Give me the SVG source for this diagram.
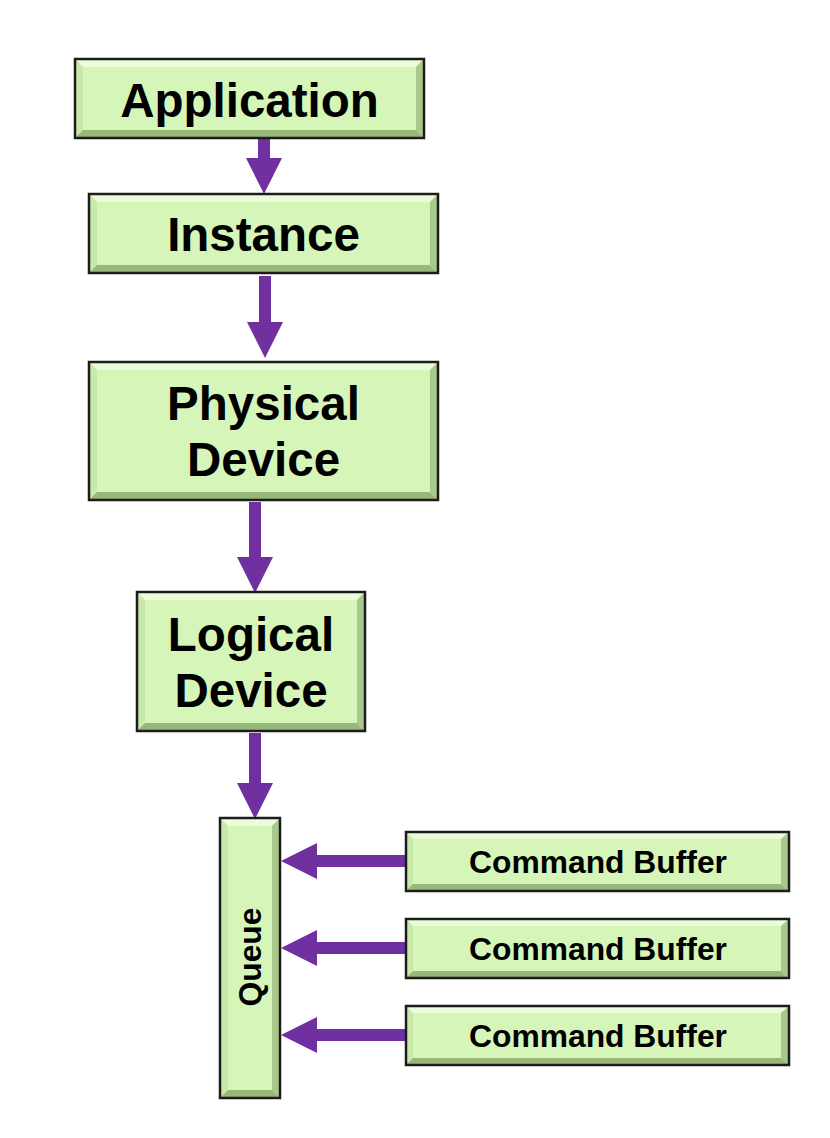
<svg xmlns="http://www.w3.org/2000/svg" width="830" height="1138" viewBox="0 0 830 1138">
<style>
.face{fill:#d6f5b8}
.bt{fill:#eafcda}
.bl{fill:#c9e9aa}
.bb{fill:#98b87a}
.br{fill:#a9c98c}
.edge{fill:none;stroke:#1c1c1c;stroke-width:2.5}
.lbl{font-family:"Liberation Sans",Arial,sans-serif;font-weight:bold;fill:#000;text-anchor:middle}
.big{font-size:47.5px}
.small{font-size:31.8px}
.arrow{fill:#7030a0}
</style>
<rect width="830" height="1138" fill="#fff"/>
<g id="connectors">
  <polygon class="arrow" points="258,128 270,128 270,158 282,158 264,194 246,158 258,158"/>
  <polygon class="arrow" points="259,276 271,276 271,322 283,322 265,358 247,322 259,322"/>
  <polygon class="arrow" points="249,502 261,502 261,557 273,557 255,593 237,557 249,557"/>
  <polygon class="arrow" points="249,733 261,733 261,783 273,783 255,819 237,783 249,783"/>
  <polygon class="arrow" points="407,855 317,855 317,843 281,861 317,879 317,867 407,867"/>
  <polygon class="arrow" points="407,942 317,942 317,930 281,948 317,966 317,954 407,954"/>
  <polygon class="arrow" points="407,1029 317,1029 317,1017 281,1035 317,1053 317,1041 407,1041"/>
</g>
<g id="application">
  <rect class="face" x="75" y="59" width="349" height="79"/>
  <polygon class="bt" points="75,59 424,59 416,67 83,67"/>
  <polygon class="bl" points="75,59 83,67 83,130 75,138"/>
  <polygon class="bb" points="75,138 83,130 416,130 424,138"/>
  <polygon class="br" points="424,59 424,138 416,130 416,67"/>
  <rect class="edge" x="75" y="59" width="349" height="79"/>
  <text class="lbl big" x="249.5" y="117">Application</text>
</g>
<g id="instance">
  <rect class="face" x="89" y="194" width="349" height="79"/>
  <polygon class="bt" points="89,194 438,194 430,202 97,202"/>
  <polygon class="bl" points="89,194 97,202 97,265 89,273"/>
  <polygon class="bb" points="89,273 97,265 430,265 438,273"/>
  <polygon class="br" points="438,194 438,273 430,265 430,202"/>
  <rect class="edge" x="89" y="194" width="349" height="79"/>
  <text class="lbl big" x="263.5" y="251">Instance</text>
</g>
<g id="physical-device">
  <rect class="face" x="89" y="362" width="349" height="138"/>
  <polygon class="bt" points="89,362 438,362 430,370 97,370"/>
  <polygon class="bl" points="89,362 97,370 97,492 89,500"/>
  <polygon class="bb" points="89,500 97,492 430,492 438,500"/>
  <polygon class="br" points="438,362 438,500 430,492 430,370"/>
  <rect class="edge" x="89" y="362" width="349" height="138"/>
  <text class="lbl big" x="263.5" y="420">Physical</text>
  <text class="lbl big" x="263.5" y="476">Device</text>
</g>
<g id="logical-device">
  <rect class="face" x="137" y="592" width="228" height="139"/>
  <polygon class="bt" points="137,592 365,592 357,600 145,600"/>
  <polygon class="bl" points="137,592 145,600 145,723 137,731"/>
  <polygon class="bb" points="137,731 145,723 357,723 365,731"/>
  <polygon class="br" points="365,592 365,731 357,723 357,600"/>
  <rect class="edge" x="137" y="592" width="228" height="139"/>
  <text class="lbl big" x="251" y="651">Logical</text>
  <text class="lbl big" x="251" y="707">Device</text>
</g>
<g id="queue">
  <rect class="face" x="220" y="818" width="60" height="280"/>
  <polygon class="bt" points="220,818 280,818 272,826 228,826"/>
  <polygon class="bl" points="220,818 228,826 228,1090 220,1098"/>
  <polygon class="bb" points="220,1098 228,1090 272,1090 280,1098"/>
  <polygon class="br" points="280,818 280,1098 272,1090 272,826"/>
  <rect class="edge" x="220" y="818" width="60" height="280"/>
  <text class="lbl small" x="0" y="0" transform="translate(261,957) rotate(-90)">Queue</text>
</g>
<g id="command-buffer-1">
  <rect class="face" x="406" y="832" width="383" height="59"/>
  <polygon class="bt" points="406,832 789,832 781,839 413,839"/>
  <polygon class="bl" points="406,832 413,839 413,884 406,891"/>
  <polygon class="bb" points="406,891 413,884 781,884 789,891"/>
  <polygon class="br" points="789,832 789,891 781,884 781,839"/>
  <rect class="edge" x="406" y="832" width="383" height="59"/>
  <text class="lbl small" x="598" y="873">Command Buffer</text>
</g>
<g id="command-buffer-2">
  <rect class="face" x="406" y="919" width="383" height="59"/>
  <polygon class="bt" points="406,919 789,919 781,926 413,926"/>
  <polygon class="bl" points="406,919 413,926 413,971 406,978"/>
  <polygon class="bb" points="406,978 413,971 781,971 789,978"/>
  <polygon class="br" points="789,919 789,978 781,971 781,926"/>
  <rect class="edge" x="406" y="919" width="383" height="59"/>
  <text class="lbl small" x="598" y="960">Command Buffer</text>
</g>
<g id="command-buffer-3">
  <rect class="face" x="406" y="1006" width="383" height="59"/>
  <polygon class="bt" points="406,1006 789,1006 781,1013 413,1013"/>
  <polygon class="bl" points="406,1006 413,1013 413,1058 406,1065"/>
  <polygon class="bb" points="406,1065 413,1058 781,1058 789,1065"/>
  <polygon class="br" points="789,1006 789,1065 781,1058 781,1013"/>
  <rect class="edge" x="406" y="1006" width="383" height="59"/>
  <text class="lbl small" x="598" y="1047">Command Buffer</text>
</g>
</svg>
